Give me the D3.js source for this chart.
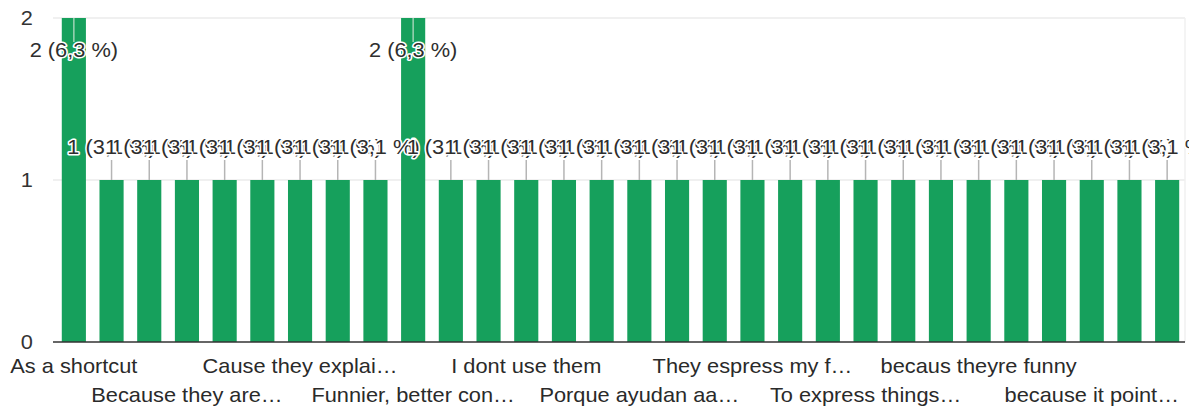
<!DOCTYPE html>
<html>
<head>
<meta charset="utf-8">
<script src="https://cdn.jsdelivr.net/npm/d3@7"></script>
<style>
  html, body { margin: 0; padding: 0; background: #fff; }
  svg { display: block; }
  text { font-family: "Liberation Sans", Arial, sans-serif; }
</style>
</head>
<body>
<svg id="chart" width="1195" height="410"></svg>
<script>
// ---- data (responses sorted as in the form summary; every third label is shown) ----
const categories = [
  "As a shortcut", "Answer 2", "Answer 3",
  "Because they are…", "Answer 5", "Answer 6",
  "Cause they explai…", "Answer 8", "Answer 9",
  "Funnier, better con…", "Answer 11", "Answer 12",
  "I dont use them", "Answer 14", "Answer 15",
  "Porque ayudan aa…", "Answer 17", "Answer 18",
  "They espress my f…", "Answer 20", "Answer 21",
  "To express things…", "Answer 23", "Answer 24",
  "becaus theyre funny", "Answer 26", "Answer 27",
  "because it point…", "Answer 29", "Answer 30"
];
const counts = [2,1,1,1,1,1,1,1,1,2,1,1,1,1,1,1,1,1,1,1,1,1,1,1,1,1,1,1,1,1];
const totalResponses = 32;
const yTicks = [0, 1, 2];

// ---- layout ----
const svg = d3.select("#chart");
const FONT = 20, SX = 1.09;
const plotLeft = 53, plotRight = 1185;

const x = d3.scaleBand()
  .domain(d3.range(categories.length))
  .range([55, 1186])
  .paddingInner(0.36)
  .paddingOuter(0.18);
const y = d3.scaleLinear().domain([0, 2]).range([342, 18]);

function sText(g, tx, ty, str, anchor) {
  return g.append("text")
    .attr("transform", `translate(${tx},${ty}) scale(${SX},1)`)
    .attr("text-anchor", anchor)
    .attr("font-size", FONT)
    .attr("fill", "#333")
    .text(str);
}

// gridlines
svg.append("g").selectAll("line").data(yTicks.filter(d => d > 0)).join("line")
  .attr("x1", plotLeft).attr("x2", plotRight)
  .attr("y1", d => y(d)).attr("y2", d => y(d))
  .attr("stroke", "#ebebeb").attr("stroke-width", 1.5);

// faint right border
svg.append("line")
  .attr("x1", plotRight).attr("x2", plotRight)
  .attr("y1", y(2)).attr("y2", y(0))
  .attr("stroke", "#f0f0f0").attr("stroke-width", 1.5);

// y tick labels
const yg = svg.append("g");
yTicks.forEach(t => sText(yg, 33, y(t) + 7, String(t), "end"));

// bars
svg.append("g").selectAll("rect").data(counts).join("rect")
  .attr("x", (d, i) => x(i))
  .attr("width", x.bandwidth())
  .attr("y", d => y(d))
  .attr("height", d => y(0) - y(d))
  .attr("fill", "#16a05c");

// baseline
svg.append("line")
  .attr("x1", plotLeft).attr("x2", plotRight)
  .attr("y1", y(0)).attr("y2", y(0))
  .attr("stroke", "#333").attr("stroke-width", 1.5);

// annotations (stems + labels), clipped at the right edge
svg.append("defs").append("clipPath").attr("id", "clipAnn")
  .append("rect").attr("x", 0).attr("y", 0).attr("width", 1189).attr("height", 410);
const ag = svg.append("g").attr("clip-path", "url(#clipAnn)");
const maxCount = d3.max(counts);

counts.forEach((v, i) => {
  const cx = x(i) + x.bandwidth() / 2;
  const top = y(v);
  const inside = v === maxCount;
  ag.append("line")
    .attr("x1", cx).attr("x2", cx)
    .attr("y1", top).attr("y2", inside ? top + 24 : top - 20)
    .attr("stroke", inside ? "#9fd3b5" : "#b5b5b5")
    .attr("stroke-width", 1.5);
});
counts.forEach((v, i) => {
  const cx = x(i) + x.bandwidth() / 2;
  const top = y(v);
  const inside = v === maxCount;
  const pct = (Math.round(v / totalResponses * 1000) / 10).toFixed(1).replace(".", ",");
  sText(ag, cx, inside ? top + 39 : top - 26, `${v} (${pct} %)`, "middle")
    .attr("stroke", "#fff").attr("stroke-width", 3)
    .attr("paint-order", "stroke").attr("stroke-linejoin", "round")
    .attr("fill", "#2e2e2e");
});

// x-axis labels: every third category, alternating rows
const xg = svg.append("g");
categories.forEach((c, i) => {
  if (i % 3 !== 0) return;
  const row = (i / 3) % 2;
  sText(xg, x(i) + x.bandwidth() / 2, row === 0 ? 373 : 402, c, "middle")
    .attr("fill", "#2a2a2a");
});
</script>
</body>
</html>
